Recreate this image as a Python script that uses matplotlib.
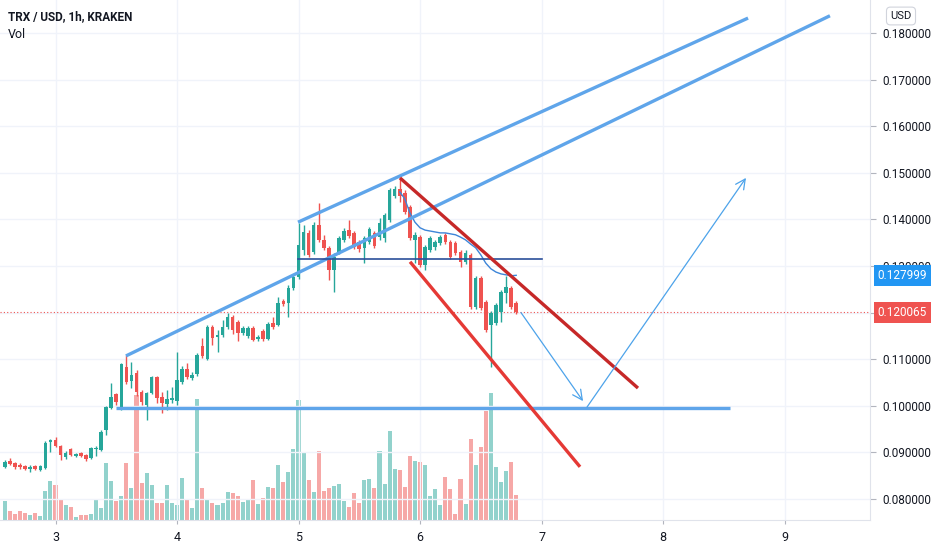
import numpy as np
import matplotlib
matplotlib.use('Agg')
import matplotlib.pyplot as plt
import matplotlib.transforms as mtransforms

plt.rcParams['font.family'] = ['Roboto', 'DejaVu Sans']

# hourly candles, x is the day of the month
first_candle = 4 - 34 / 24

# prices in 1e-4 USD
opens = [869, 882, 877, 873, 871, 864, 871, 862, 867, 922,
         927, 914, 890, 907, 892, 899, 894, 888, 907, 905,
         948, 995, 1025, 995, 1083, 1053, 1070, 1030, 1002, 1027,
         1062, 1019, 1004, 1012, 1010, 1051, 1079, 1060, 1068, 1128,
         1100, 1169, 1148, 1152, 1169, 1191, 1180, 1156, 1150, 1167,
         1143, 1161, 1143, 1178, 1173, 1225, 1221, 1253, 1276, 1334,
         1371, 1330, 1388, 1356, 1339, 1291, 1330, 1356, 1377, 1371,
         1352, 1339, 1352, 1371, 1362, 1360, 1399, 1450, 1465, 1457,
         1427, 1356, 1362, 1302, 1334, 1341, 1349, 1367, 1352, 1349,
         1330, 1309, 1324, 1212, 1274, 1223, 1173, 1178, 1201, 1242,
         1253, 1221]
closes = [879, 875, 869, 869, 864, 869, 864, 871, 920, 927,
          914, 894, 899, 894, 897, 892, 886, 909, 909, 944,
          997, 1019, 1008, 1090, 1051, 1066, 1030, 1008, 1027, 1062,
          1017, 1006, 1015, 1017, 1055, 1079, 1062, 1066, 1109, 1107,
          1169, 1146, 1152, 1169, 1191, 1163, 1156, 1167, 1167, 1141,
          1148, 1143, 1176, 1169, 1221, 1218, 1253, 1276, 1345, 1373,
          1324, 1388, 1356, 1339, 1291, 1319, 1360, 1375, 1364, 1341,
          1336, 1360, 1379, 1343, 1392, 1409, 1463, 1465, 1450, 1416,
          1360, 1367, 1302, 1341, 1360, 1352, 1362, 1352, 1319, 1328,
          1309, 1328, 1212, 1274, 1210, 1163, 1199, 1216, 1244, 1255,
          1212, 1200.65]
highs = [884, 888, 879, 877, 873, 873, 873, 873, 924, 929,
         933, 916, 903, 909, 899, 901, 897, 912, 914, 948,
         1000, 1049, 1027, 1092, 1109, 1094, 1077, 1034, 1030, 1064,
         1064, 1030, 1034, 1040, 1115, 1085, 1092, 1073, 1113, 1146,
         1173, 1173, 1163, 1184, 1199, 1195, 1184, 1171, 1171, 1171,
         1152, 1165, 1180, 1191, 1233, 1229, 1259, 1281, 1392, 1388,
         1377, 1394, 1435, 1367, 1343, 1328, 1364, 1382, 1399, 1375,
         1356, 1364, 1384, 1375, 1403, 1414, 1467, 1472, 1489, 1463,
         1431, 1373, 1367, 1345, 1364, 1356, 1367, 1371, 1356, 1354,
         1334, 1334, 1328, 1279, 1279, 1227, 1203, 1221, 1249, 1279,
         1257, 1225]
lows = [867, 873, 864, 864, 862, 858, 862, 860, 864, 901,
        912, 884, 886, 892, 890, 890, 882, 886, 892, 903,
        937, 993, 1002, 991, 1047, 1038, 1021, 1002, 970, 1025,
        1006, 985, 991, 1006, 1002, 1047, 1058, 1055, 1064, 1103,
        1098, 1130, 1115, 1148, 1165, 1154, 1139, 1152, 1146, 1139,
        1139, 1139, 1141, 1165, 1171, 1214, 1191, 1249, 1272, 1324,
        1319, 1326, 1352, 1334, 1270, 1244, 1326, 1352, 1360, 1336,
        1330, 1306, 1347, 1339, 1356, 1352, 1394, 1446, 1437, 1412,
        1356, 1306, 1298, 1291, 1330, 1334, 1345, 1347, 1315, 1324,
        1298, 1304, 1208, 1208, 1206, 1158, 1083, 1173, 1180, 1221,
        1208, 1197]
volumes = [19, 9, 6, 9, 7, 5, 7, 4, 29, 39,
           35, 20, 15, 13, 3, 5, 5, 6, 21, 12,
           57, 39, 19, 24, 57, 32, 125, 37, 47, 35,
           17, 17, 35, 17, 15, 42, 20, 12, 121, 32,
           21, 17, 15, 17, 28, 27, 24, 18, 20, 40,
           16, 22, 33, 32, 55, 38, 48, 71, 120, 68,
           40, 28, 69, 29, 32, 34, 36, 19, 13, 27,
           17, 40, 41, 32, 69, 36, 89, 51, 50, 33,
           64, 59, 58, 55, 24, 31, 15, 43, 31, 6,
           41, 16, 81, 55, 73, 109, 127, 53, 38, 49,
           58, 25]

# anchored vwap from the top candle
vwap_start = 78
vwap = [1459, 1444, 1414, 1394, 1382, 1377, 1375, 1373, 1371, 1371,
        1369, 1367, 1362, 1356, 1347, 1339, 1324, 1306, 1294, 1287,
        1283, 1281, 1279, 1279.99]

day_ticks = [3, 4, 5, 6, 7, 8, 9]
price_ticks = [0.08, 0.09, 0.10, 0.11, 0.12, 0.13, 0.14, 0.15, 0.16, 0.17, 0.18]
hidden_tick = 0.12   # covered by the last price label
last_price = 0.120065
vwap_price = 0.127999

# user drawings: (days, prices)
lower_channel = ([3.580, 9.374], [0.1107, 0.1837])
upper_channel = ([4.996, 8.700], [0.1394, 0.1832])
support = ([3.498, 8.551], [0.0995, 0.0995])
mid_level = ([4.996, 7.004], [0.1315, 0.1315])
red_upper = ([5.835, 7.794], [0.1489, 0.1038])
red_lower = ([5.918, 7.317], [0.1309, 0.0869])
arrow_down = ([6.831, 7.342], [0.1200, 0.1010])
arrow_up = ([7.374, 8.683], [0.0997, 0.1489])

UP = '#26a69a'
DOWN = '#ef5350'


def main():
    o = np.array(opens) / 1e4
    c = np.array(closes) / 1e4
    h = np.array(highs) / 1e4
    l = np.array(lows) / 1e4
    t = first_candle + np.arange(len(o)) / 24
    cols = np.where(c >= o, UP, DOWN)

    fig = plt.figure(figsize=(9.32, 5.5), dpi=100)
    rect = [0, 30 / 550, 870 / 932, 520 / 550]
    ax = fig.add_axes(rect)
    axv = ax.twinx()
    ax.set_zorder(axv.get_zorder() + 1)
    ax.patch.set_visible(False)

    # volume
    axv.bar(t, volumes, width=0.8 / 24, color=cols, alpha=0.5, linewidth=0)
    axv.set_ylim(0, 520)
    axv.set_yticks([])
    for s in axv.spines.values():
        s.set_visible(False)

    # candles
    ax.vlines(t, l, h, colors=cols, linewidth=1, zorder=3)
    body = np.maximum(np.abs(c - o), 0.00015)
    ax.bar(t, body, bottom=np.minimum(o, c), width=0.7 / 24, color=cols,
           linewidth=0, zorder=4)

    tv = t[vwap_start:vwap_start + len(vwap)]
    ax.plot(tv, np.array(vwap) / 1e4, color='#3d85d8', lw=1, zorder=5)

    ax.axhline(last_price, color=DOWN, lw=0.8, ls=(0, (1, 2)), zorder=2)

    lb = '#5fa5ea'
    ax.plot(*lower_channel, color=lb, lw=2.4, zorder=6, solid_capstyle='butt')
    ax.plot(*upper_channel, color=lb, lw=2.4, zorder=6, solid_capstyle='butt')
    ax.plot(*support, color=lb, lw=2.4, zorder=6, solid_capstyle='butt')
    ax.plot(*mid_level, color='#2a4f9a', lw=1.2, zorder=6)
    ax.plot(*red_upper, color='#c62828', lw=2.4, zorder=6, solid_capstyle='butt')
    ax.plot(*red_lower, color='#e53935', lw=2.4, zorder=6, solid_capstyle='butt')
    for xs, ys in (arrow_down, arrow_up):
        ax.annotate('', xy=(xs[1], ys[1]), xytext=(xs[0], ys[0]),
                    arrowprops=dict(arrowstyle='->,head_length=0.7,head_width=0.35',
                                    color='#4da3ea', lw=0.9, shrinkA=0, shrinkB=0),
                    zorder=6)

    ax.set_xlim(4 - 177 / 121.5, 4 + 693 / 121.5)
    ax.set_ylim(0.18708 - 0.0002146 * 520, 0.18708)
    ax.set_xticks(day_ticks)
    ax.set_xticklabels([str(d) for d in day_ticks])
    ax.set_yticks(price_ticks)
    ax.set_yticklabels(['' if abs(p - hidden_tick) < 1e-9 else '%.6f' % p
                        for p in price_ticks])
    ax.yaxis.tick_right()
    ax.grid(color='#f0f3fa', lw=1)
    ax.set_axisbelow(True)
    for k, s in ax.spines.items():
        s.set_visible(k in ('right', 'bottom'))
        s.set_color('#e0e3eb')
    ax.tick_params(axis='y', length=4, color='#b2b5be', labelsize=8.5,
                   labelcolor='#131722', pad=5)
    ax.tick_params(axis='x', length=3, color='#b2b5be', labelsize=9,
                   labelcolor='#131722', pad=5)

    tr = mtransforms.blended_transform_factory(ax.transAxes, ax.transData)
    for val, col in ((vwap_price, '#2196f3'), (last_price, DOWN)):
        ax.text(1.009, val, '%.6f' % val, transform=tr, ha='left', va='center',
                color='white', fontsize=8.5, zorder=10, clip_on=False,
                bbox=dict(boxstyle='square,pad=0.35', fc=col, ec='none'))

    fig.text(8 / 932, 1 - 17 / 550, 'TRX / USD, 1h, KRAKEN', fontsize=8.5,
             fontweight='semibold', color='#131722', va='center')
    fig.text(8 / 932, 1 - 35 / 550, 'Vol', fontsize=9, color='#131722',
             va='center')
    fig.text(901 / 932, 1 - 16 / 550, 'USD', fontsize=8, color='#131722',
             ha='center', va='center',
             bbox=dict(boxstyle='round,pad=0.35', fc='white', ec='#d1d4dc', lw=0.8))

    fig.savefig('out.png', dpi=100)
    plt.close(fig)


if __name__ == "__main__":
    main()
